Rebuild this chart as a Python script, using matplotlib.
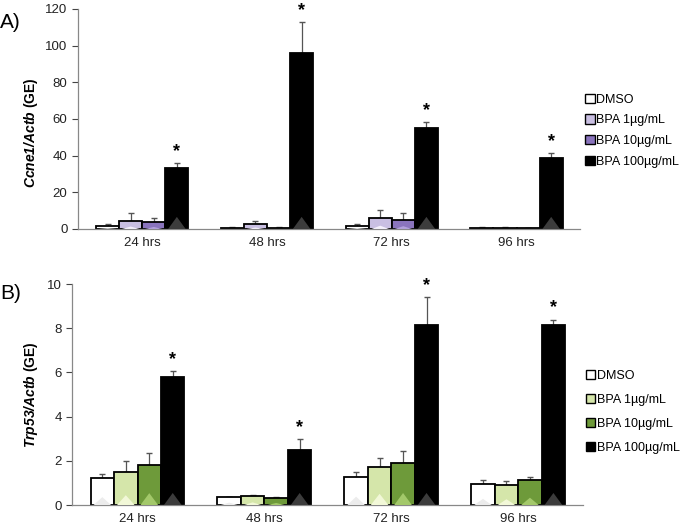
import numpy as np
import matplotlib.pyplot as plt
from matplotlib.patches import Polygon, Patch

plt.rcParams['font.family'] = ['Liberation Sans', 'DejaVu Sans']
plt.rcParams['mathtext.fontset'] = 'custom'
plt.rcParams['mathtext.bfit'] = 'Liberation Sans:bold:italic'

times = ['24 hrs', '48 hrs', '72 hrs', '96 hrs']
groups = ['DMSO', 'BPA 1\u00b5g/mL', 'BPA 10\u00b5g/mL', 'BPA 100\u00b5g/mL']

# panel A: Ccne1/Actb
ccne1_mean = [[1.5, 0.8, 1.8, 0.3],
              [4.5, 2.7, 6.0, 0.3],
              [3.7, 0.3, 5.1, 0.6],
              [33.3, 95.8, 55.3, 38.9]]
ccne1_err = [[1.0, 0.2, 0.9, 0.6],
             [4.0, 1.5, 4.2, 0.6],
             [2.1, 0.6, 3.5, 0.2],
             [2.5, 16.9, 3.1, 2.4]]

# panel B: Trp53/Actb
trp53_mean = [[1.21, 0.38, 1.28, 0.95],
              [1.50, 0.42, 1.71, 0.89],
              [1.81, 0.33, 1.92, 1.12],
              [5.81, 2.49, 8.14, 8.14]]
trp53_err = [[0.18, 0.0, 0.22, 0.17],
             [0.50, 0.03, 0.43, 0.18],
             [0.56, 0.02, 0.54, 0.15],
             [0.26, 0.50, 1.25, 0.24]]

colors_a = ['#ffffff', '#c9bfe2', '#8a74bd', '#000000']
shade_a = ['#ececec', '#f4f0fb', '#b3a2dc', '#3c3c3c']
colors_b = ['#ffffff', '#d5e6aa', '#6e9a3a', '#000000']
shade_b = ['#ececec', '#f2f8d8', '#a3c86a', '#3c3c3c']

fig = plt.figure(figsize=(6.81, 5.24), dpi=100)
ax_a = fig.add_axes([0.1145, 0.563, 0.7375, 0.420])
ax_b = fig.add_axes([0.106, 0.036, 0.750, 0.422])

width = 0.185
offsets = (np.arange(4) - 1.5) * width
x = np.arange(len(times))


def draw(ax, means, errs, colors, shades, ymax, step, star_pad, ylab, lab_xy):
    for i in range(4):
        xs = x + offsets[i]
        ax.bar(xs, means[i], width, color=colors[i], edgecolor='black',
               linewidth=1.3, zorder=2)
        ax.errorbar(xs, means[i], yerr=[np.zeros(4), errs[i]], fmt='none',
                    ecolor='#555555', elinewidth=0.9, capsize=2.5, zorder=1)
        for xx, m in zip(xs, means[i]):
            h = min(m * 0.3, ymax * 0.055)
            if m > ymax * 0.01:
                tri = Polygon([[xx - width * 0.38, 0], [xx + width * 0.38, 0],
                               [xx, h]], closed=True, color=shades[i],
                              zorder=3, lw=0)
                ax.add_patch(tri)
    for j in range(4):
        top = means[3][j] + errs[3][j]
        ax.text(x[j] + offsets[3], top + star_pad, '*', ha='center',
                va='bottom', fontsize=13, fontweight='bold')
    ax.set_xlim(-0.515, 3.51)
    ax.set_ylim(0, ymax)
    ax.set_yticks(np.arange(0, ymax + step / 2, step))
    ax.set_xticks(x)
    ax.set_xticklabels(times, fontsize=9.5, color='#222222')
    ax.tick_params(axis='x', length=0, pad=6)
    ax.tick_params(axis='y', labelsize=9.5, colors='#444444',
                   labelcolor='#222222', length=4, width=0.8)
    for s in ['top', 'right']:
        ax.spines[s].set_visible(False)
    for s in ['left', 'bottom']:
        ax.spines[s].set_color('#888888')
        ax.spines[s].set_linewidth(0.9)
    ax.set_ylabel(ylab, fontsize=10, fontweight='bold')
    ax.yaxis.set_label_coords(*lab_xy)


draw(ax_a, ccne1_mean, ccne1_err, colors_a, shade_a, 120, 20, 1.5,
     r'$\mathbfit{Ccne1/Actb}$ (GE)', (-0.076, 0.44))
draw(ax_b, trp53_mean, trp53_err, colors_b, shade_b, 10, 2, 0.15,
     r'$\mathbfit{Trp53/Actb}$ (GE)', (-0.063, 0.5))

fig.text(0.0, 0.975, 'A)', fontsize=15, va='top')
fig.text(0.0, 0.458, 'B)', fontsize=15, va='top')

leg_a = [Patch(facecolor=c, edgecolor='black', lw=1) for c in colors_a]
leg_b = [Patch(facecolor=c, edgecolor='black', lw=1) for c in colors_b]
fig.legend(leg_a, groups, loc='upper left', bbox_to_anchor=(0.852, 0.831),
           frameon=False, fontsize=9, handlelength=0.75, handleheight=0.75,
           handletextpad=0.15, labelspacing=0.7, borderaxespad=0)
fig.legend(leg_b, groups, loc='upper left', bbox_to_anchor=(0.853, 0.303),
           frameon=False, fontsize=9, handlelength=0.75, handleheight=0.75,
           handletextpad=0.15, labelspacing=0.95, borderaxespad=0)

fig.savefig('out.png', dpi=100)
